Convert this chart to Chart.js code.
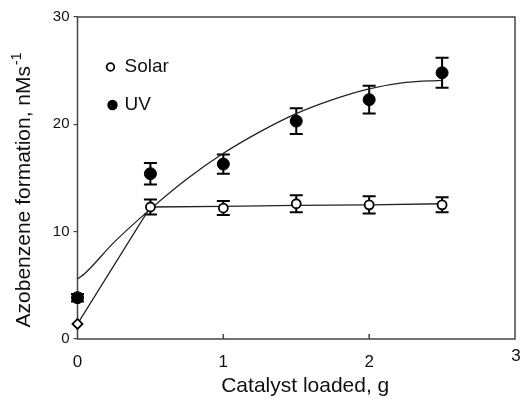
<!DOCTYPE html>
<html>
<head>
<meta charset="utf-8">
<script src="https://cdn.jsdelivr.net/npm/chart.js@4.4.1/dist/chart.umd.min.js"></script>
<style>
  html, body { margin: 0; padding: 0; background: #fff; }
  #chart { display: block; }
</style>
</head>
<body>
<canvas id="chart" width="522" height="399"></canvas>
<script>
// 触媒量 (g)
const loadings = [0, 0.5, 1, 1.5, 2, 2.5];

// 測定値と誤差
const solarRate = [1.4, 12.3, 12.2, 12.6, 12.5, 12.5];
const solarErr = [0, 0.7, 0.65, 0.8, 0.8, 0.7];
const uvRate = [3.85, 15.4, 16.3, 20.3, 22.3, 24.8];
const uvErr = [0.35, 1.0, 0.9, 1.2, 1.3, 1.4];

// フィット曲線
const uvFitX = [0, 0.05, 0.25, 0.5, 0.75, 1, 1.25, 1.5, 1.75, 2, 2.25, 2.5];
const uvFitY = [5.6, 6.1, 9.0, 12.1, 14.9, 17.3, 19.3, 21.0, 22.3, 23.3, 23.9, 24.1];
const solarFitX = [0, 0.5, 1, 1.5, 2, 2.5];
const solarFitY = [1.4, 12.3, 12.35, 12.45, 12.5, 12.6];

// 目盛
const xTicks = [0, 1, 2, 3];
const yTicks = [0, 10, 20, 30];

const FONT = "'Liberation Sans', Arial, Helvetica, sans-serif";
const INK = "#111";

function pts(xs, ys) {
  return xs.map((x, i) => ({ x: x, y: ys[i] }));
}

// エラーバー（点の下に描く）
const errorBars = {
  id: "errorBars",
  beforeDatasetsDraw(chart) {
    const ctx = chart.ctx;
    const yScale = chart.scales.y;
    chart.data.datasets.forEach((ds, i) => {
      if (!ds.errors) return;
      const meta = chart.getDatasetMeta(i);
      ctx.save();
      ctx.strokeStyle = "#000";
      ctx.lineWidth = 2;
      meta.data.forEach((p, j) => {
        const e = ds.errors[j];
        if (!e) return;
        const v = ds.data[j].y;
        const top = yScale.getPixelForValue(v + e);
        const bot = yScale.getPixelForValue(v - e);
        ctx.beginPath();
        ctx.moveTo(p.x, top); ctx.lineTo(p.x, bot);
        ctx.moveTo(p.x - 6.5, top); ctx.lineTo(p.x + 6.5, top);
        ctx.moveTo(p.x - 6.5, bot); ctx.lineTo(p.x + 6.5, bot);
        ctx.stroke();
      });
      ctx.restore();
    });
  }
};

// 枠・目盛ラベル・軸タイトル・凡例
const frame = {
  id: "frame",
  beforeDatasetsDraw(chart) {
    const ctx = chart.ctx;
    const a = chart.chartArea;
    const xs = chart.scales.x;
    ctx.save();
    ctx.strokeStyle = "#444";
    ctx.lineWidth = 1.5;
    ctx.strokeRect(a.left, a.top, a.right - a.left, a.bottom - a.top);

    // x 目盛（内向き）
    ctx.beginPath();
    xTicks.slice(1, -1).forEach(t => {
      const px = xs.getPixelForValue(t);
      ctx.moveTo(px, a.bottom); ctx.lineTo(px, a.bottom - 5);
    });
    ctx.stroke();
    ctx.restore();
  },
  afterDraw(chart) {
    const ctx = chart.ctx;
    const a = chart.chartArea;
    const xs = chart.scales.x;
    ctx.save();
    ctx.fillStyle = INK;
    ctx.font = "17px " + FONT;
    ctx.textAlign = "center";
    ctx.textBaseline = "alphabetic";
    xTicks.forEach((t, i) => {
      const px = xs.getPixelForValue(t);
      if (i === xTicks.length - 1) {
        ctx.fillText(String(t), px + 1, a.bottom + 22);
      } else {
        ctx.fillText(String(t), px, a.bottom + 28);
      }
    });

    // x 軸タイトル
    ctx.font = "21px " + FONT;
    ctx.fillText("Catalyst loaded, g", (a.left + a.right) / 2 + 9, 392);

    // y 軸タイトル（上付き -1）
    const main = "Azobenzene formation, nMs";
    const sup = "-1";
    ctx.font = "21px " + FONT;
    const wMain = ctx.measureText(main).width;
    ctx.font = "14px " + FONT;
    const wSup = ctx.measureText(sup).width;
    const total = wMain + wSup + 1;
    ctx.translate(30, 190);
    ctx.rotate(-Math.PI / 2);
    ctx.textAlign = "left";
    ctx.font = "21px " + FONT;
    ctx.fillText(main, -total / 2, 0);
    ctx.font = "14px " + FONT;
    ctx.fillText(sup, -total / 2 + wMain + 1, -9);
    ctx.setTransform(1, 0, 0, 1, 0, 0);

    // 凡例
    const lx = a.left + 33;
    ctx.lineWidth = 1.8;
    ctx.strokeStyle = "#000";
    ctx.beginPath();
    ctx.arc(lx, a.top + 50, 3.8, 0, Math.PI * 2);
    ctx.stroke();
    ctx.fillStyle = "#000";
    ctx.beginPath();
    ctx.arc(lx + 2, a.top + 88, 5.2, 0, Math.PI * 2);
    ctx.fill();
    ctx.fillStyle = INK;
    ctx.font = "19px " + FONT;
    ctx.textAlign = "left";
    ctx.textBaseline = "middle";
    ctx.fillText("Solar", lx + 14, a.top + 50);
    ctx.fillText("UV", lx + 14, a.top + 88);
    ctx.restore();
  }
};

new Chart(document.getElementById("chart"), {
  type: "scatter",
  data: {
    datasets: [
      {
        label: "UV",
        data: pts(loadings, uvRate),
        errors: uvErr,
        pointStyle: "circle",
        pointRadius: 6,
        pointBackgroundColor: "#000",
        pointBorderColor: "#000",
        pointBorderWidth: 1,
        showLine: false,
        clip: false,
        order: 0
      },
      {
        label: "Solar",
        data: pts(loadings, solarRate),
        errors: solarErr,
        pointStyle: loadings.map((x, i) => (i === 0 ? "rectRot" : "circle")),
        pointRadius: loadings.map((x, i) => (i === 0 ? 5 : 4.5)),
        pointBackgroundColor: "#fff",
        pointBorderColor: "#000",
        pointBorderWidth: 1.8,
        showLine: false,
        clip: false,
        order: 1
      },
      {
        label: "UV fit",
        data: pts(uvFitX, uvFitY),
        showLine: true,
        cubicInterpolationMode: "monotone",
        borderColor: "#222",
        borderWidth: 1.3,
        pointRadius: 0,
        order: 2
      },
      {
        label: "Solar fit",
        data: pts(solarFitX, solarFitY),
        showLine: true,
        tension: 0,
        borderColor: "#222",
        borderWidth: 1.3,
        pointRadius: 0,
        order: 3
      }
    ]
  },
  options: {
    responsive: false,
    animation: false,
    devicePixelRatio: 1,
    layout: { padding: { top: 17, right: 1, left: 0, bottom: 0 } },
    plugins: { legend: { display: false }, tooltip: { enabled: false } },
    scales: {
      x: {
        type: "linear",
        min: 0,
        max: 3,
        afterBuildTicks: s => { s.ticks = xTicks.map(v => ({ value: v })); },
        afterFit: s => { s.height = 60; },
        grid: { display: false },
        border: { display: false },
        ticks: { display: false }
      },
      y: {
        min: 0,
        max: 30,
        afterBuildTicks: s => { s.ticks = yTicks.map(v => ({ value: v })); },
        afterFit: s => { s.width = 77.5; },
        grid: { drawOnChartArea: false, drawTicks: true, tickLength: 4, color: "#444", lineWidth: 1.2 },
        border: { display: false },
        ticks: { color: INK, font: { family: FONT, size: 15 }, padding: 4 }
      }
    }
  },
  plugins: [errorBars, frame]
});
</script>
</body>
</html>
